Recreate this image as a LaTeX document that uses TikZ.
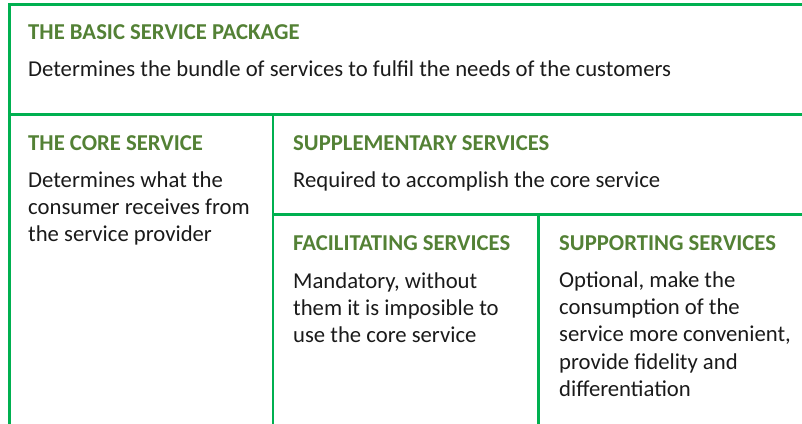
\documentclass[tikz,border=0pt]{standalone}
\usepackage{fontspec}
\setmainfont{Carlito}
\definecolor{linegreen}{HTML}{00B050}
\definecolor{titlegreen}{HTML}{538135}
\definecolor{bodytext}{HTML}{1A1A1A}
\begin{document}
\begin{tikzpicture}[x=1pt,y=-1pt,
  cell/.style={draw=linegreen,line width=2.7pt},
  ttl/.style={anchor=base west,inner sep=0pt,font=\fontsize{22.7}{27.2}\selectfont\bfseries,text=titlegreen},
  body/.style={anchor=base west,inner sep=0pt,font=\fontsize{22.7}{27.2}\selectfont,text=bodytext,align=left}]
\useasboundingbox (0,0) rectangle (802,423);
\clip (0,0) rectangle (802,423);
% boxes
\path[cell] (9.5,4.5) rectangle (830,450);
\path[cell] (9.5,114.5) rectangle (273,450);
\path[cell] (273,114.5) rectangle (830,450);
\path[cell] (273,214.5) rectangle (538.7,450);
\path[cell] (538.7,214.5) rectangle (830,450);
% texts (base anchor of a multi-line node = baseline of its last line)
\node[ttl] (t1) at (28,39.5) {THE BASIC SERVICE PACKAGE};
\node[body] (b1) at (28,76.5) {Determines the bundle of services to fulfil the needs of the customers};
\node[ttl] (t2) at (28,150) {THE CORE SERVICE};
\node[body] (b2) at (28,241.6) {Determines what the\\consumer receives from\\the service provider};
\node[ttl] (t3) at (293,150) {SUPPLEMENTARY SERVICES};
\node[body] (b3) at (293,187) {Required to accomplish the core service};
\node[ttl] (t4) at (293,250) {FACILITATING SERVICES};
\node[body] (b4) at (293,342.4) {Mandatory, without\\them it is imposible to\\use the core service};
\node[ttl] (t5) at (559,250) {SUPPORTING SERVICES};
\node[body] (b5) at (559,396.2) {Optional, make the\\consumption of the\\service more convenient,\\provide fidelity and\\differentiation};
\end{tikzpicture}
\end{document}
